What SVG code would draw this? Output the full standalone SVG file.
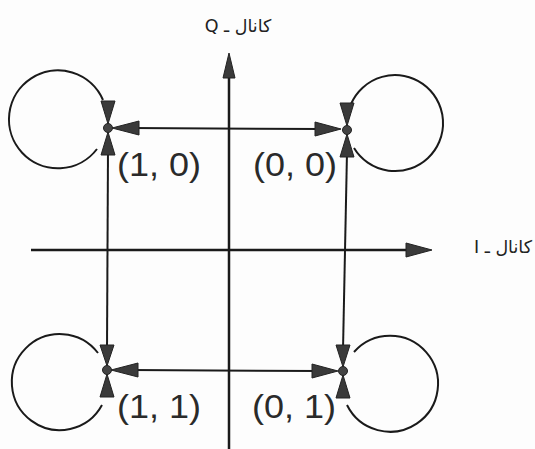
<svg xmlns="http://www.w3.org/2000/svg" width="535" height="449" viewBox="0 0 535 449">
<style>
.ln{stroke:#1a1a1a;stroke-width:2;fill:none}
.ax{stroke:#1a1a1a;stroke-width:2.5;fill:none}
.ah{fill:#3a3a3a;stroke:#222;stroke-width:1}
.dot{fill:#444;stroke:#222;stroke-width:1}
.lbl{font-family:"Liberation Sans",Arial,sans-serif;font-size:34px;fill:#2a2a2a}
.ch{font-family:"DejaVu Sans","Noto Sans",sans-serif;font-size:17.5px;fill:#222}
</style>
<rect width="535" height="449" fill="#fdfdfd"/>
<g id="connectors">
  <!-- axes -->
  <line class="ax" x1="229" y1="74" x2="229" y2="449"/>
  <polygon class="ah" points="229,53 223,78 235,78"/>
  <line class="ax" x1="31" y1="250" x2="410" y2="250"/>
  <polygon class="ah" points="432,250 406,243 406,257"/>
  <!-- horizontal links -->
  <line class="ln" x1="130" y1="128" x2="322" y2="129"/>
  <polygon class="ah" points="112,128 139,121 139,135"/>
  <polygon class="ah" points="341,129 315,122 315,136"/>
  <line class="ln" x1="130" y1="370" x2="320" y2="371"/>
  <polygon class="ah" points="111,370 138,363 138,377"/>
  <polygon class="ah" points="338,371 312,364 312,378"/>
  <!-- vertical links -->
  <line class="ln" x1="108" y1="150" x2="107" y2="350"/>
  <line class="ln" x1="347" y1="152" x2="343" y2="350"/>
  <!-- self loops -->
  <path class="ln" d="M103,100 A49,49 0 1 0 97,149"/>
  <path class="ln" d="M351,104 A48,48 0 1 1 354,148"/>
  <path class="ln" d="M98,353 A48,48 0 1 0 102,405"/>
  <path class="ln" d="M354,352 A48,48 0 1 1 347,405"/>
</g>
<g id="node-10">
  <polygon class="ah" points="108,124 101,101 115,101"/>
  <polygon class="ah" points="108,132 101,155 115,155"/>
  <circle class="dot" cx="108" cy="128" r="4.5"/>
  <text class="lbl" x="117" y="176" textLength="84" lengthAdjust="spacingAndGlyphs">(1, 0)</text>
</g>
<g id="node-00">
  <polygon class="ah" points="347,126 340,103 354,103"/>
  <polygon class="ah" points="347,134 340,157 354,157"/>
  <circle class="dot" cx="347" cy="130" r="4.5"/>
  <text class="lbl" x="253" y="176" textLength="84" lengthAdjust="spacingAndGlyphs">(0, 0)</text>
</g>
<g id="node-11">
  <polygon class="ah" points="107,366 100,345 114,345"/>
  <polygon class="ah" points="107,374 100,397 114,397"/>
  <circle class="dot" cx="107" cy="370" r="4.5"/>
  <text class="lbl" x="117" y="418" textLength="84" lengthAdjust="spacingAndGlyphs">(1, 1)</text>
</g>
<g id="node-01">
  <polygon class="ah" points="343,367 336,345 350,345"/>
  <polygon class="ah" points="343,375 336,398 350,398"/>
  <circle class="dot" cx="343" cy="371" r="4.5"/>
  <text class="lbl" x="252" y="418" textLength="84" lengthAdjust="spacingAndGlyphs">(0, 1)</text>
</g>
<g id="axis-labels">
  <text class="ch" x="238" y="32" text-anchor="middle" direction="rtl">کانال ـ Q</text>
  <text class="ch" x="503" y="253" text-anchor="middle" direction="rtl">کانال ـ I</text>
</g>
</svg>
